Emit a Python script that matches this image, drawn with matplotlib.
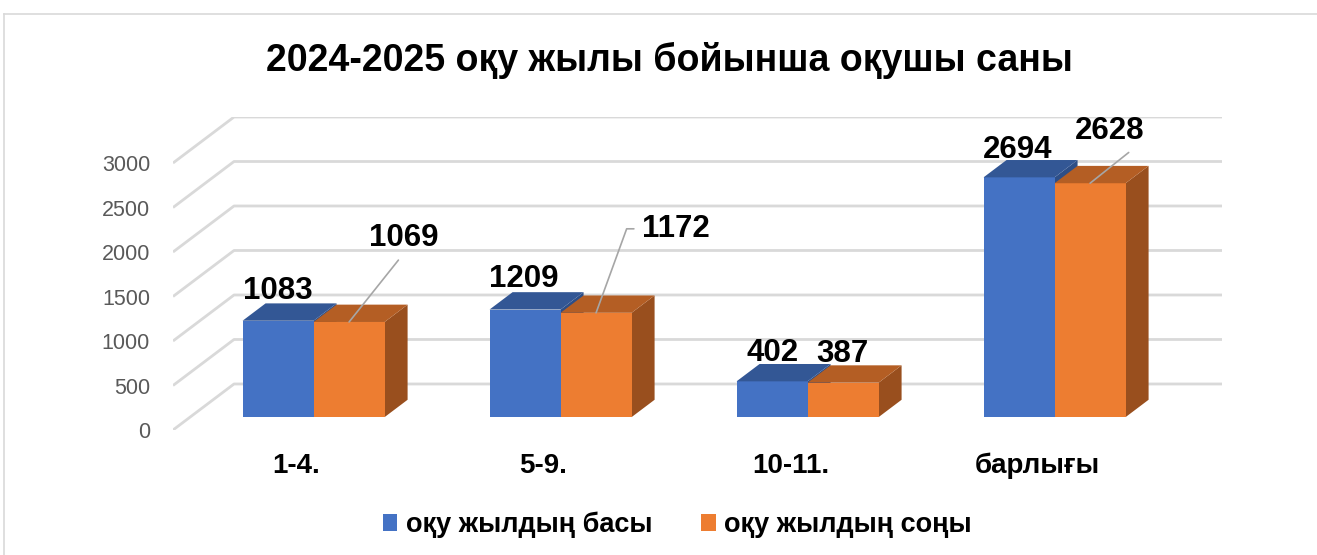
import matplotlib
matplotlib.use("Agg")
import matplotlib.pyplot as plt
from matplotlib.patches import Polygon, Rectangle, Patch
from matplotlib.lines import Line2D

plt.rcParams['font.family'] = ['Liberation Sans', 'DejaVu Sans']

# ---------------- data ----------------
title = "2024-2025 оқу жылы бойынша оқушы саны"
categories = ["1-4.", "5-9.", "10-11.", "барлығы"]
series_names = ["оқу жылдың басы", "оқу жылдың соңы"]
start_values = [1083, 1209, 402, 2694]
end_values = [1069, 1172, 387, 2628]
yticks = [0, 500, 1000, 1500, 2000, 2500, 3000]

# ---------------- style ----------------
W, H, DPI = 1317, 555, 100
front_colors = ["#4472C4", "#ED7D31"]
top_colors = ["#335795", "#B45E24"]
side_colors = ["#2D4E87", "#994F1E"]
grid_color = "#D9D9D9"
leader_color = "#A6A6A6"

fig = plt.figure(figsize=(W / DPI, H / DPI), dpi=DPI)

# axes spanning front-left (0) to back-right of the pseudo-3D box (pixel layout)
ax_l, ax_r, ax_t, ax_b = 173, 1222, 117, 430
ax = fig.add_axes([ax_l / W, (H - ax_b) / H, (ax_r - ax_l) / W, (ax_b - ax_t) / H])
n = len(categories)
DX = 0.247          # depth offset in category units
DY = 517            # depth offset in value units
ax.set_xlim(0, n + DX)
ax.set_ylim(0, yticks[-1] + DY)
for s in ax.spines.values():
    s.set_visible(False)
ax.set_xticks([])
ax.set_yticks(yticks)
ax.set_yticklabels([str(v) for v in yticks], color="#595959", fontsize=15.5)
ax.tick_params(axis='y', length=0, pad=16.5)

# gridlines: floor-left diagonal + back wall line
for v in yticks:
    ax.plot([0, DX, n + DX], [v, v + DY, v + DY], color=grid_color, lw=2,
            zorder=1, solid_capstyle='butt')

# bars
w = 0.2875
d0, dd = 0.28, 0.377
series = [start_values, end_values]
bar_tops = []
for i in range(n):
    for s, vals in enumerate(series):
        val = vals[i]
        x0 = i + 0.5 + (s - 1) * w + d0 * DX
        x1 = x0 + w
        yb = d0 * DY
        yt = yb + val
        ox, oy = dd * DX, dd * DY
        z = 3 + i * 0.1 + s * 0.01
        ax.add_patch(Polygon([(x1, yb), (x1 + ox, yb + oy), (x1 + ox, yt + oy), (x1, yt)],
                             closed=True, facecolor=side_colors[s], edgecolor='none', zorder=z))
        ax.add_patch(Rectangle((x0, yb), w, val, facecolor=front_colors[s],
                               edgecolor='none', zorder=z + 0.001))
        ax.add_patch(Polygon([(x0, yt), (x1, yt), (x1 + ox, yt + oy), (x0 + ox, yt + oy)],
                             closed=True, facecolor=top_colors[s], edgecolor='none', zorder=z + 0.002))
        bar_tops.append(((x0 + x1) / 2, yt, s, i, val))

# data labels (offsets in pixels from bar top-front centre)
label_offsets = {
    (0, 0): (0, 30), (0, 1): (-1, 31), (0, 2): (0, 28), (0, 3): (-1, 27),
    (1, 0): (55, 84), (1, 1): (80, 84), (1, 2): (-1, 29), (1, 3): (20, 52),
}
leaders = {
    (1, 0): dict(relpos=(0.5, 0.0), connectionstyle="arc3"),
    (1, 1): dict(relpos=(0.0, 0.5), connectionstyle="angle,angleA=0,angleB=70,rad=0"),
    (1, 3): dict(relpos=(0.88, 0.0), connectionstyle="arc3"),
}
pt = 72 / DPI
for xc, yt, s, i, val in bar_tops:
    dx, dy = label_offsets[(s, i)]
    kw = {}
    if (s, i) in leaders:
        L = leaders[(s, i)]
        kw['arrowprops'] = dict(arrowstyle='-', color=leader_color, lw=1.2,
                                shrinkA=4, shrinkB=0, relpos=L['relpos'],
                                connectionstyle=L['connectionstyle'])
    ax.annotate(str(val), xy=(xc, yt), xytext=(dx * pt, dy * pt),
                textcoords='offset points', ha='center', va='center',
                fontsize=22.5, fontweight='bold', color='black', zorder=10,
                annotation_clip=False, **kw)

# category labels at the front plane
for i, c in enumerate(categories):
    ax.text(i + 0.5, -(473 - ax_b) / 0.089, c, ha='center', va='baseline',
            fontsize=20, fontweight='bold', color='black', clip_on=False)

# title
fig.text(669 / W, 1 - 60 / H, title, ha='center', va='center',
         fontsize=27, fontweight='bold', color='black')

# legend
handles = [Patch(facecolor=front_colors[k], edgecolor='none') for k in range(2)]
fig.legend(handles, series_names, loc='center', bbox_to_anchor=(677 / W, 1 - 525 / H),
           ncol=2, frameon=False, handlelength=0.55, handleheight=0.55,
           handletextpad=0.3, columnspacing=1.8,
           prop=dict(weight='bold', size=19.5))

# outer chart border (top and left visible)
fig.add_artist(Line2D([4 / W, 4 / W], [0, 1 - 14 / H], color=grid_color, lw=1.2))
fig.add_artist(Line2D([4 / W, 1], [1 - 14 / H, 1 - 14 / H], color=grid_color, lw=1.2))

fig.savefig("out.png", dpi=DPI)
